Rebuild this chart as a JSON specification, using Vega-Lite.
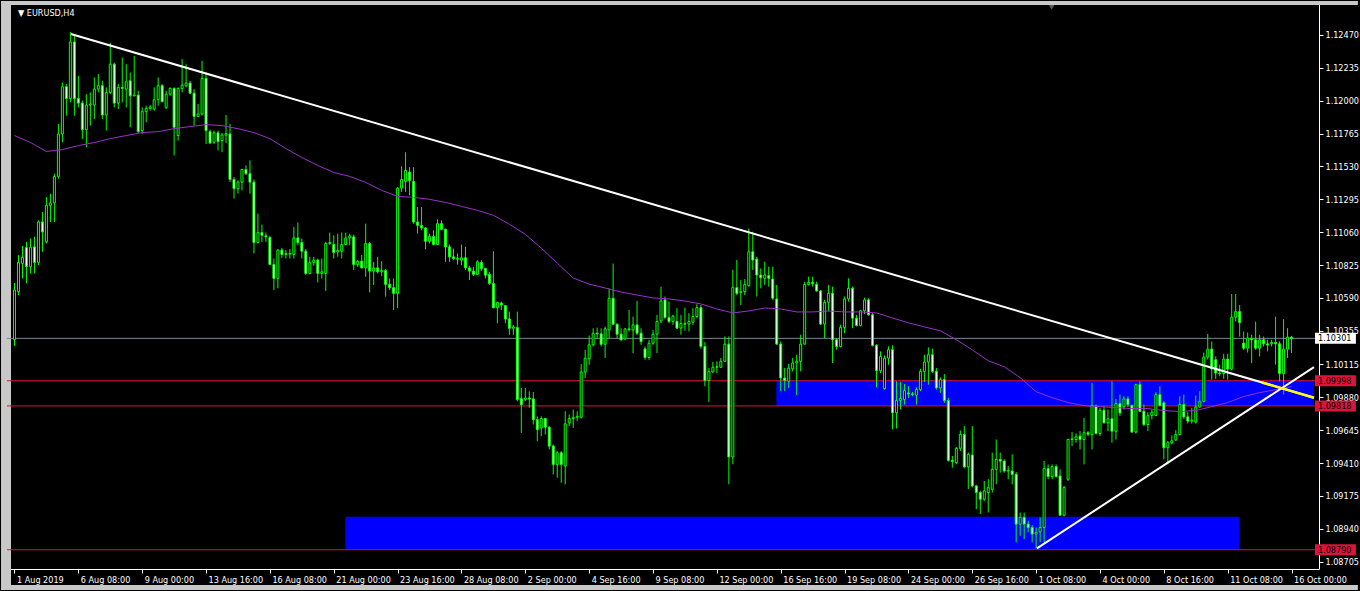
{
"$schema":"https://vega.github.io/schema/vega-lite/v6.json",
"width":1360,"height":591,"autosize":{"type":"fit","contains":"padding"},
"padding":{"left":0,"top":0,"right":0,"bottom":0},
"background":"#000000",
"config":{"view":{"stroke":null},"axis":{"labelColor":"#ffffff","tickColor":"#ffffff","domainColor":"#ffffff","grid":false,"labelFont":"DejaVu Sans Condensed","labelFontSize":9,"zindex":0}},
"resolve":{"axis":{"x":"independent","y":"independent"}},
"datasets":{
"bars":[
{"i":0,"o":1.10291,"h":1.10697,"l":1.10248,"c":1.10647,"ma":1.11751},
{"i":1,"o":1.10635,"h":1.10896,"l":1.10611,"c":1.10844},
{"i":2,"o":1.10837,"h":1.10962,"l":1.10730,"c":1.10879},
{"i":3,"o":1.10951,"h":1.10991,"l":1.10694,"c":1.10813},
{"i":4,"o":1.10813,"h":1.11015,"l":1.10765,"c":1.10951,"ma":1.11701},
{"i":5,"o":1.10955,"h":1.11027,"l":1.10765,"c":1.10844},
{"i":6,"o":1.10844,"h":1.11145,"l":1.10825,"c":1.11133},
{"i":7,"o":1.11133,"h":1.11205,"l":1.10920,"c":1.11062},
{"i":8,"o":1.10991,"h":1.11311,"l":1.10979,"c":1.11252,"ma":1.11637},
{"i":9,"o":1.11252,"h":1.11335,"l":1.11133,"c":1.11269},
{"i":10,"o":1.11269,"h":1.11478,"l":1.11133,"c":1.11459},
{"i":11,"o":1.11459,"h":1.11834,"l":1.11442,"c":1.11762},
{"i":12,"o":1.11762,"h":1.12130,"l":1.11703,"c":1.12100,"ma":1.11651},
{"i":13,"o":1.12100,"h":1.12119,"l":1.11893,"c":1.12016},
{"i":14,"o":1.12016,"h":1.12491,"l":1.11988,"c":1.12420},
{"i":15,"o":1.12420,"h":1.12463,"l":1.11893,"c":1.12016},
{"i":16,"o":1.12016,"h":1.12178,"l":1.11952,"c":1.11983,"ma":1.11679},
{"i":17,"o":1.11983,"h":1.12000,"l":1.11727,"c":1.11793},
{"i":18,"o":1.11793,"h":1.12047,"l":1.11667,"c":1.11969},
{"i":19,"o":1.11969,"h":1.12059,"l":1.11822,"c":1.11976},
{"i":20,"o":1.11969,"h":1.12166,"l":1.11869,"c":1.12083,"ma":1.11701},
{"i":21,"o":1.12083,"h":1.12190,"l":1.12059,"c":1.12107},
{"i":22,"o":1.12107,"h":1.12142,"l":1.11869,"c":1.11898},
{"i":23,"o":1.11898,"h":1.12095,"l":1.11786,"c":1.12059},
{"i":24,"o":1.12059,"h":1.12415,"l":1.12047,"c":1.12261,"ma":1.11729},
{"i":25,"o":1.12261,"h":1.12273,"l":1.11952,"c":1.11983},
{"i":26,"o":1.11983,"h":1.12119,"l":1.11940,"c":1.12095},
{"i":27,"o":1.12095,"h":1.12308,"l":1.11988,"c":1.12088},
{"i":28,"o":1.12083,"h":1.12261,"l":1.11952,"c":1.12135,"ma":1.11751},
{"i":29,"o":1.12142,"h":1.12202,"l":1.11810,"c":1.12035},
{"i":30,"o":1.12035,"h":1.12320,"l":1.12031,"c":1.12040},
{"i":31,"o":1.12040,"h":1.12071,"l":1.11770,"c":1.11779},
{"i":32,"o":1.11786,"h":1.11952,"l":1.11762,"c":1.11922,"ma":1.11772},
{"i":33,"o":1.11922,"h":1.11964,"l":1.11846,"c":1.11945},
{"i":34,"o":1.11945,"h":1.11969,"l":1.11929,"c":1.11955},
{"i":35,"o":1.11940,"h":1.12095,"l":1.11929,"c":1.12007},
{"i":36,"o":1.12007,"h":1.12166,"l":1.11964,"c":1.12107,"ma":1.11779},
{"i":37,"o":1.12107,"h":1.12119,"l":1.11988,"c":1.11993},
{"i":38,"o":1.11952,"h":1.12071,"l":1.11940,"c":1.12047},
{"i":39,"o":1.12047,"h":1.12095,"l":1.12035,"c":1.12088},
{"i":40,"o":1.12088,"h":1.12095,"l":1.11608,"c":1.11810,"ma":1.11800},
{"i":41,"o":1.11751,"h":1.12095,"l":1.11715,"c":1.12088},
{"i":42,"o":1.12088,"h":1.12297,"l":1.12059,"c":1.12111},
{"i":43,"o":1.12107,"h":1.12261,"l":1.12095,"c":1.12126},
{"i":44,"o":1.12126,"h":1.12142,"l":1.12047,"c":1.12054,"ma":1.11815},
{"i":45,"o":1.12054,"h":1.12083,"l":1.11822,"c":1.11888},
{"i":46,"o":1.11888,"h":1.11976,"l":1.11881,"c":1.11905},
{"i":47,"o":1.11905,"h":1.12285,"l":1.11893,"c":1.12159},
{"i":48,"o":1.12159,"h":1.12202,"l":1.11691,"c":1.11786,"ma":1.11829},
{"i":49,"o":1.11779,"h":1.11793,"l":1.11691,"c":1.11698},
{"i":50,"o":1.11703,"h":1.11786,"l":1.11691,"c":1.11770},
{"i":51,"o":1.11770,"h":1.11786,"l":1.11644,"c":1.11708},
{"i":52,"o":1.11715,"h":1.11770,"l":1.11632,"c":1.11755,"ma":1.11822},
{"i":53,"o":1.11755,"h":1.11898,"l":1.11698,"c":1.11765},
{"i":54,"o":1.11762,"h":1.11834,"l":1.11418,"c":1.11437},
{"i":55,"o":1.11437,"h":1.11454,"l":1.11300,"c":1.11371},
{"i":56,"o":1.11371,"h":1.11430,"l":1.11335,"c":1.11418,"ma":1.11800},
{"i":57,"o":1.11418,"h":1.11513,"l":1.11359,"c":1.11508},
{"i":58,"o":1.11508,"h":1.11537,"l":1.11470,"c":1.11478},
{"i":59,"o":1.11478,"h":1.11573,"l":1.11335,"c":1.11418},
{"i":60,"o":1.11418,"h":1.11437,"l":1.10908,"c":1.10986,"ma":1.11772},
{"i":61,"o":1.10986,"h":1.11193,"l":1.10979,"c":1.11057},
{"i":62,"o":1.11057,"h":1.11114,"l":1.10991,"c":1.11038},
{"i":63,"o":1.11034,"h":1.11057,"l":1.10991,"c":1.11027},
{"i":64,"o":1.11022,"h":1.11034,"l":1.10825,"c":1.10829,"ma":1.11729},
{"i":65,"o":1.10829,"h":1.10872,"l":1.10647,"c":1.10730},
{"i":66,"o":1.10730,"h":1.10939,"l":1.10659,"c":1.10932},
{"i":67,"o":1.10932,"h":1.10948,"l":1.10877,"c":1.10901},
{"i":68,"o":1.10901,"h":1.10932,"l":1.10872,"c":1.10908,"ma":1.11658},
{"i":69,"o":1.10903,"h":1.10939,"l":1.10872,"c":1.10908},
{"i":70,"o":1.10901,"h":1.11098,"l":1.10872,"c":1.11019},
{"i":71,"o":1.11019,"h":1.11129,"l":1.10967,"c":1.10986},
{"i":72,"o":1.10986,"h":1.11015,"l":1.10872,"c":1.10924,"ma":1.11594},
{"i":73,"o":1.10924,"h":1.10939,"l":1.10753,"c":1.10765},
{"i":74,"o":1.10765,"h":1.10884,"l":1.10758,"c":1.10844},
{"i":75,"o":1.10844,"h":1.10884,"l":1.10820,"c":1.10860},
{"i":76,"o":1.10860,"h":1.10872,"l":1.10701,"c":1.10765,"ma":1.11537},
{"i":77,"o":1.10765,"h":1.10872,"l":1.10730,"c":1.10777},
{"i":78,"o":1.10765,"h":1.10991,"l":1.10640,"c":1.10979},
{"i":79,"o":1.10979,"h":1.11057,"l":1.10967,"c":1.10986},
{"i":80,"o":1.10972,"h":1.11038,"l":1.10872,"c":1.10915,"ma":1.11487},
{"i":81,"o":1.10919,"h":1.11050,"l":1.10884,"c":1.10929},
{"i":82,"o":1.10924,"h":1.11057,"l":1.10872,"c":1.10972},
{"i":83,"o":1.10972,"h":1.11057,"l":1.10967,"c":1.11019},
{"i":84,"o":1.11019,"h":1.11050,"l":1.10967,"c":1.11033,"ma":1.11459},
{"i":85,"o":1.11026,"h":1.11043,"l":1.10789,"c":1.10829},
{"i":86,"o":1.10829,"h":1.10860,"l":1.10812,"c":1.10853},
{"i":87,"o":1.10853,"h":1.10896,"l":1.10801,"c":1.10805},
{"i":88,"o":1.10805,"h":1.11121,"l":1.10741,"c":1.10979,"ma":1.11416},
{"i":89,"o":1.10979,"h":1.10991,"l":1.10630,"c":1.10782},
{"i":90,"o":1.10782,"h":1.10848,"l":1.10682,"c":1.10805},
{"i":91,"o":1.10805,"h":1.10884,"l":1.10765,"c":1.10777},
{"i":92,"o":1.10777,"h":1.10853,"l":1.10748,"c":1.10786,"ma":1.11359},
{"i":93,"o":1.10786,"h":1.10796,"l":1.10599,"c":1.10687},
{"i":94,"o":1.10687,"h":1.10729,"l":1.10646,"c":1.10663},
{"i":95,"o":1.10663,"h":1.10729,"l":1.10504,"c":1.10623},
{"i":96,"o":1.10623,"h":1.11382,"l":1.10516,"c":1.11375,"ma":1.11316},
{"i":97,"o":1.11375,"h":1.11532,"l":1.11347,"c":1.11437},
{"i":98,"o":1.11423,"h":1.11632,"l":1.11347,"c":1.11501},
{"i":99,"o":1.11489,"h":1.11525,"l":1.11323,"c":1.11430},
{"i":100,"o":1.11423,"h":1.11525,"l":1.11121,"c":1.11133,"ma":1.11309},
{"i":101,"o":1.11133,"h":1.11240,"l":1.11050,"c":1.11109},
{"i":102,"o":1.11109,"h":1.11240,"l":1.11074,"c":1.11090},
{"i":103,"o":1.11090,"h":1.11097,"l":1.10938,"c":1.10995},
{"i":104,"o":1.10995,"h":1.11050,"l":1.10979,"c":1.11029,"ma":1.11295},
{"i":105,"o":1.11029,"h":1.11074,"l":1.10967,"c":1.10972},
{"i":106,"o":1.10972,"h":1.11152,"l":1.10967,"c":1.11121},
{"i":107,"o":1.11121,"h":1.11145,"l":1.11074,"c":1.11081},
{"i":108,"o":1.11081,"h":1.11085,"l":1.10848,"c":1.10955,"ma":1.11273},
{"i":109,"o":1.10955,"h":1.10972,"l":1.10848,"c":1.10884},
{"i":110,"o":1.10884,"h":1.10943,"l":1.10860,"c":1.10872},
{"i":111,"o":1.10872,"h":1.10907,"l":1.10829,"c":1.10867},
{"i":112,"o":1.10860,"h":1.10972,"l":1.10824,"c":1.10877,"ma":1.11245},
{"i":113,"o":1.10877,"h":1.10955,"l":1.10789,"c":1.10805},
{"i":114,"o":1.10805,"h":1.10820,"l":1.10718,"c":1.10782},
{"i":115,"o":1.10782,"h":1.10812,"l":1.10748,"c":1.10758},
{"i":116,"o":1.10758,"h":1.10860,"l":1.10753,"c":1.10848,"ma":1.11216},
{"i":117,"o":1.10843,"h":1.10860,"l":1.10782,"c":1.10801},
{"i":118,"o":1.10801,"h":1.10805,"l":1.10729,"c":1.10753},
{"i":119,"o":1.10758,"h":1.10777,"l":1.10682,"c":1.10694},
{"i":120,"o":1.10694,"h":1.10924,"l":1.10516,"c":1.10520,"ma":1.11181},
{"i":121,"o":1.10520,"h":1.10563,"l":1.10409,"c":1.10558},
{"i":122,"o":1.10554,"h":1.10563,"l":1.10504,"c":1.10539},
{"i":123,"o":1.10535,"h":1.10539,"l":1.10409,"c":1.10440},
{"i":124,"o":1.10440,"h":1.10492,"l":1.10326,"c":1.10373,"ma":1.11117},
{"i":125,"o":1.10373,"h":1.10397,"l":1.10326,"c":1.10383},
{"i":126,"o":1.10378,"h":1.10492,"l":1.09851,"c":1.09863},
{"i":127,"o":1.09870,"h":1.09946,"l":1.09625,"c":1.09827},
{"i":128,"o":1.09863,"h":1.09946,"l":1.09851,"c":1.09875,"ma":1.11045},
{"i":129,"o":1.09875,"h":1.09922,"l":1.09804,"c":1.09868},
{"i":130,"o":1.09868,"h":1.09918,"l":1.09685,"c":1.09720},
{"i":131,"o":1.09720,"h":1.09744,"l":1.09566,"c":1.09649},
{"i":132,"o":1.09661,"h":1.09744,"l":1.09602,"c":1.09728,"ma":1.10946},
{"i":133,"o":1.09728,"h":1.09732,"l":1.09614,"c":1.09666},
{"i":134,"o":1.09666,"h":1.09673,"l":1.09507,"c":1.09531},
{"i":135,"o":1.09531,"h":1.09542,"l":1.09329,"c":1.09400},
{"i":136,"o":1.09400,"h":1.09495,"l":1.09305,"c":1.09483,"ma":1.10839},
{"i":137,"o":1.09483,"h":1.09495,"l":1.09269,"c":1.09400},
{"i":138,"o":1.09388,"h":1.09780,"l":1.09258,"c":1.09690},
{"i":139,"o":1.09697,"h":1.09756,"l":1.09673,"c":1.09728},
{"i":140,"o":1.09728,"h":1.09792,"l":1.09661,"c":1.09737,"ma":1.10732},
{"i":141,"o":1.09737,"h":1.09780,"l":1.09709,"c":1.09744},
{"i":142,"o":1.09737,"h":1.10117,"l":1.09728,"c":1.10060},
{"i":143,"o":1.10060,"h":1.10219,"l":1.10017,"c":1.10160},
{"i":144,"o":1.10155,"h":1.10321,"l":1.10112,"c":1.10255,"ma":1.10689},
{"i":145,"o":1.10255,"h":1.10373,"l":1.10243,"c":1.10338},
{"i":146,"o":1.10338,"h":1.10378,"l":1.10302,"c":1.10333},
{"i":147,"o":1.10333,"h":1.10373,"l":1.10243,"c":1.10259},
{"i":148,"o":1.10259,"h":1.10385,"l":1.10160,"c":1.10369,"ma":1.10661},
{"i":149,"o":1.10361,"h":1.10658,"l":1.10302,"c":1.10587},
{"i":150,"o":1.10587,"h":1.10836,"l":1.10397,"c":1.10402},
{"i":151,"o":1.10402,"h":1.10409,"l":1.10302,"c":1.10331},
{"i":152,"o":1.10331,"h":1.10373,"l":1.10283,"c":1.10290,"ma":1.10632},
{"i":153,"o":1.10297,"h":1.10373,"l":1.10290,"c":1.10369},
{"i":154,"o":1.10369,"h":1.10504,"l":1.10350,"c":1.10364},
{"i":155,"o":1.10361,"h":1.10456,"l":1.10195,"c":1.10397},
{"i":156,"o":1.10397,"h":1.10568,"l":1.10326,"c":1.10338,"ma":1.10611},
{"i":157,"o":1.10338,"h":1.10373,"l":1.10255,"c":1.10278},
{"i":158,"o":1.10226,"h":1.10243,"l":1.10148,"c":1.10164},
{"i":159,"o":1.10164,"h":1.10290,"l":1.10148,"c":1.10266},
{"i":160,"o":1.10266,"h":1.10361,"l":1.10255,"c":1.10331,"ma":1.10590},
{"i":161,"o":1.10331,"h":1.10469,"l":1.10196,"c":1.10422},
{"i":162,"o":1.10426,"h":1.10671,"l":1.10410,"c":1.10569},
{"i":163,"o":1.10576,"h":1.10600,"l":1.10441,"c":1.10450},
{"i":164,"o":1.10450,"h":1.10564,"l":1.10410,"c":1.10422,"ma":1.10583},
{"i":165,"o":1.10422,"h":1.10469,"l":1.10398,"c":1.10460},
{"i":166,"o":1.10422,"h":1.10516,"l":1.10369,"c":1.10374},
{"i":167,"o":1.10374,"h":1.10469,"l":1.10327,"c":1.10407},
{"i":168,"o":1.10407,"h":1.10521,"l":1.10355,"c":1.10403,"ma":1.10568},
{"i":169,"o":1.10403,"h":1.10481,"l":1.10350,"c":1.10422},
{"i":170,"o":1.10417,"h":1.10516,"l":1.10398,"c":1.10457},
{"i":171,"o":1.10457,"h":1.10545,"l":1.10445,"c":1.10521},
{"i":172,"o":1.10521,"h":1.10540,"l":1.10227,"c":1.10243,"ma":1.10547},
{"i":173,"o":1.10243,"h":1.10274,"l":1.09959,"c":1.09999},
{"i":174,"o":1.09999,"h":1.10089,"l":1.09847,"c":1.10065},
{"i":175,"o":1.10061,"h":1.10132,"l":1.10054,"c":1.10094},
{"i":176,"o":1.10094,"h":1.10137,"l":1.10054,"c":1.10099,"ma":1.10511},
{"i":177,"o":1.10094,"h":1.10160,"l":1.10089,"c":1.10137},
{"i":178,"o":1.10137,"h":1.10315,"l":1.10132,"c":1.10260},
{"i":179,"o":1.10260,"h":1.10315,"l":1.09258,"c":1.09453},
{"i":180,"o":1.09453,"h":1.10790,"l":1.09401,"c":1.10664,"ma":1.10483},
{"i":181,"o":1.10664,"h":1.10861,"l":1.10611,"c":1.10623},
{"i":182,"o":1.10628,"h":1.10718,"l":1.10540,"c":1.10635},
{"i":183,"o":1.10635,"h":1.10725,"l":1.10611,"c":1.10687},
{"i":184,"o":1.10678,"h":1.11086,"l":1.10671,"c":1.10920,"ma":1.10497},
{"i":185,"o":1.10920,"h":1.11063,"l":1.10790,"c":1.10861},
{"i":186,"o":1.10868,"h":1.10884,"l":1.10600,"c":1.10754},
{"i":187,"o":1.10754,"h":1.10801,"l":1.10659,"c":1.10735},
{"i":188,"o":1.10730,"h":1.10849,"l":1.10683,"c":1.10754,"ma":1.10518},
{"i":189,"o":1.10749,"h":1.10813,"l":1.10671,"c":1.10730},
{"i":190,"o":1.10725,"h":1.10813,"l":1.10576,"c":1.10588},
{"i":191,"o":1.10583,"h":1.10683,"l":1.10255,"c":1.10260},
{"i":192,"o":1.10260,"h":1.10279,"l":1.09923,"c":1.10018,"ma":1.10511},
{"i":193,"o":1.10018,"h":1.10089,"l":1.09923,"c":1.09999},
{"i":194,"o":1.09994,"h":1.10118,"l":1.09947,"c":1.10089},
{"i":195,"o":1.10084,"h":1.10160,"l":1.10065,"c":1.10125},
{"i":196,"o":1.10125,"h":1.10184,"l":1.09895,"c":1.10137,"ma":1.10490},
{"i":197,"o":1.10137,"h":1.10327,"l":1.10065,"c":1.10260},
{"i":198,"o":1.10260,"h":1.10706,"l":1.10255,"c":1.10687},
{"i":199,"o":1.10687,"h":1.10742,"l":1.10678,"c":1.10702},
{"i":200,"o":1.10702,"h":1.10742,"l":1.10671,"c":1.10692,"ma":1.10490},
{"i":201,"o":1.10687,"h":1.10706,"l":1.10635,"c":1.10640},
{"i":202,"o":1.10640,"h":1.10647,"l":1.10398,"c":1.10403},
{"i":203,"o":1.10403,"h":1.10576,"l":1.10303,"c":1.10559},
{"i":204,"o":1.10559,"h":1.10683,"l":1.10493,"c":1.10623,"ma":1.10497},
{"i":205,"o":1.10623,"h":1.10671,"l":1.10125,"c":1.10291},
{"i":206,"o":1.10291,"h":1.10303,"l":1.10220,"c":1.10243},
{"i":207,"o":1.10243,"h":1.10398,"l":1.10236,"c":1.10379},
{"i":208,"o":1.10379,"h":1.10600,"l":1.10338,"c":1.10583,"ma":1.10490},
{"i":209,"o":1.10583,"h":1.10730,"l":1.10564,"c":1.10659},
{"i":210,"o":1.10659,"h":1.10671,"l":1.10374,"c":1.10445},
{"i":211,"o":1.10445,"h":1.10469,"l":1.10386,"c":1.10393},
{"i":212,"o":1.10393,"h":1.10505,"l":1.10386,"c":1.10498,"ma":1.10490},
{"i":213,"o":1.10498,"h":1.10592,"l":1.10474,"c":1.10576},
{"i":214,"o":1.10576,"h":1.10588,"l":1.10464,"c":1.10469},
{"i":215,"o":1.10469,"h":1.10481,"l":1.10243,"c":1.10251},
{"i":216,"o":1.10251,"h":1.10260,"l":1.09951,"c":1.10070,"ma":1.10483},
{"i":217,"o":1.10070,"h":1.10208,"l":1.10054,"c":1.10172},
{"i":218,"o":1.09942,"h":1.10179,"l":1.09935,"c":1.10160},
{"i":219,"o":1.10160,"h":1.10243,"l":1.10113,"c":1.10220},
{"i":220,"o":1.10220,"h":1.10251,"l":1.09650,"c":1.09769,"ma":1.10447},
{"i":221,"o":1.09769,"h":1.09994,"l":1.09657,"c":1.09857},
{"i":222,"o":1.09857,"h":1.09989,"l":1.09792,"c":1.09871},
{"i":223,"o":1.09864,"h":1.09975,"l":1.09828,"c":1.09928},
{"i":224,"o":1.09911,"h":1.09959,"l":1.09876,"c":1.09904,"ma":1.10412},
{"i":225,"o":1.09904,"h":1.09918,"l":1.09887,"c":1.09899},
{"i":226,"o":1.09895,"h":1.09951,"l":1.09828,"c":1.09935},
{"i":227,"o":1.09935,"h":1.10084,"l":1.09923,"c":1.10065},
{"i":228,"o":1.10065,"h":1.10184,"l":1.09989,"c":1.10132,"ma":1.10383},
{"i":229,"o":1.10132,"h":1.10236,"l":1.09970,"c":1.10184},
{"i":230,"o":1.10184,"h":1.10227,"l":1.10054,"c":1.10065},
{"i":231,"o":1.10065,"h":1.10089,"l":1.09935,"c":1.09947},
{"i":232,"o":1.09947,"h":1.10023,"l":1.09911,"c":1.10006,"ma":1.10355},
{"i":233,"o":1.10006,"h":1.10046,"l":1.09840,"c":1.09857},
{"i":234,"o":1.09857,"h":1.09876,"l":1.09420,"c":1.09429},
{"i":235,"o":1.09429,"h":1.09460,"l":1.09377,"c":1.09420},
{"i":236,"o":1.09413,"h":1.09524,"l":1.09401,"c":1.09515,"ma":1.10291},
{"i":237,"o":1.09515,"h":1.09643,"l":1.09496,"c":1.09614},
{"i":238,"o":1.09614,"h":1.09674,"l":1.09372,"c":1.09382},
{"i":239,"o":1.09382,"h":1.09484,"l":1.09223,"c":1.09472},
{"i":240,"o":1.09467,"h":1.09674,"l":1.09235,"c":1.09246,"ma":1.10219},
{"i":241,"o":1.09246,"h":1.09254,"l":1.09080,"c":1.09199},
{"i":242,"o":1.09199,"h":1.09211,"l":1.09045,"c":1.09151},
{"i":243,"o":1.09151,"h":1.09282,"l":1.09139,"c":1.09211},
{"i":244,"o":1.09199,"h":1.09294,"l":1.09056,"c":1.09234,"ma":1.10141},
{"i":245,"o":1.09222,"h":1.09484,"l":1.09199,"c":1.09365},
{"i":246,"o":1.09365,"h":1.09578,"l":1.09258,"c":1.09436},
{"i":247,"o":1.09436,"h":1.09484,"l":1.09341,"c":1.09424},
{"i":248,"o":1.09424,"h":1.09436,"l":1.09341,"c":1.09353,"ma":1.10098},
{"i":249,"o":1.09353,"h":1.09389,"l":1.09294,"c":1.09358},
{"i":250,"o":1.09353,"h":1.09472,"l":1.09258,"c":1.09329},
{"i":251,"o":1.09329,"h":1.09346,"l":1.08843,"c":1.08973},
{"i":252,"o":1.08973,"h":1.09056,"l":1.08890,"c":1.09021,"ma":1.10020},
{"i":253,"o":1.09021,"h":1.09056,"l":1.08866,"c":1.08973},
{"i":254,"o":1.08973,"h":1.08997,"l":1.08914,"c":1.08949},
{"i":255,"o":1.08949,"h":1.08966,"l":1.08843,"c":1.08902},
{"i":256,"o":1.08902,"h":1.08949,"l":1.08800,"c":1.08914,"ma":1.09920},
{"i":257,"o":1.08918,"h":1.09021,"l":1.08843,"c":1.08949},
{"i":258,"o":1.08949,"h":1.09424,"l":1.08843,"c":1.09370},
{"i":259,"o":1.09370,"h":1.09400,"l":1.09294,"c":1.09313},
{"i":260,"o":1.09313,"h":1.09400,"l":1.09294,"c":1.09384,"ma":1.09877},
{"i":261,"o":1.09384,"h":1.09400,"l":1.09305,"c":1.09313},
{"i":262,"o":1.09317,"h":1.09365,"l":1.09032,"c":1.09037},
{"i":263,"o":1.09037,"h":1.09246,"l":1.09028,"c":1.09234},
{"i":264,"o":1.09294,"h":1.09583,"l":1.09282,"c":1.09578,"ma":1.09842},
{"i":265,"o":1.09578,"h":1.09631,"l":1.09531,"c":1.09583},
{"i":266,"o":1.09578,"h":1.09621,"l":1.09555,"c":1.09597},
{"i":267,"o":1.09602,"h":1.09638,"l":1.09507,"c":1.09578},
{"i":268,"o":1.09578,"h":1.09733,"l":1.09400,"c":1.09626,"ma":1.09820},
{"i":269,"o":1.09626,"h":1.09638,"l":1.09602,"c":1.09616},
{"i":270,"o":1.09612,"h":1.09982,"l":1.09507,"c":1.09821},
{"i":271,"o":1.09816,"h":1.09828,"l":1.09614,"c":1.09621},
{"i":272,"o":1.09621,"h":1.09804,"l":1.09602,"c":1.09787,"ma":1.09813},
{"i":273,"o":1.09787,"h":1.09816,"l":1.09692,"c":1.09697},
{"i":274,"o":1.09697,"h":1.09792,"l":1.09638,"c":1.09726},
{"i":275,"o":1.09726,"h":1.09994,"l":1.09555,"c":1.09638},
{"i":276,"o":1.09638,"h":1.09868,"l":1.09578,"c":1.09835,"ma":1.09806},
{"i":277,"o":1.09835,"h":1.09899,"l":1.09745,"c":1.09768},
{"i":278,"o":1.09811,"h":1.09887,"l":1.09792,"c":1.09868},
{"i":279,"o":1.09868,"h":1.09887,"l":1.09811,"c":1.09828},
{"i":280,"o":1.09821,"h":1.09828,"l":1.09626,"c":1.09631,"ma":1.09799},
{"i":281,"o":1.09631,"h":1.09977,"l":1.09621,"c":1.09970},
{"i":282,"o":1.09970,"h":1.09994,"l":1.09773,"c":1.09780},
{"i":283,"o":1.09780,"h":1.09828,"l":1.09673,"c":1.09685},
{"i":284,"o":1.09685,"h":1.09773,"l":1.09638,"c":1.09749,"ma":1.09799},
{"i":285,"o":1.09749,"h":1.09792,"l":1.09721,"c":1.09773},
{"i":286,"o":1.09749,"h":1.09916,"l":1.09745,"c":1.09899},
{"i":287,"o":1.09899,"h":1.09958,"l":1.09816,"c":1.09821},
{"i":288,"o":1.09840,"h":1.09851,"l":1.09436,"c":1.09519,"ma":1.09785},
{"i":289,"o":1.09519,"h":1.09567,"l":1.09400,"c":1.09555},
{"i":290,"o":1.09555,"h":1.09607,"l":1.09543,"c":1.09569},
{"i":291,"o":1.09574,"h":1.09645,"l":1.09567,"c":1.09614},
{"i":292,"o":1.09614,"h":1.09887,"l":1.09607,"c":1.09828,"ma":1.09778},
{"i":293,"o":1.09828,"h":1.09899,"l":1.09726,"c":1.09740},
{"i":294,"o":1.09740,"h":1.09773,"l":1.09692,"c":1.09709},
{"i":295,"o":1.09709,"h":1.09804,"l":1.09692,"c":1.09716},
{"i":296,"o":1.09702,"h":1.09892,"l":1.09692,"c":1.09811,"ma":1.09785},
{"i":297,"o":1.09811,"h":1.09923,"l":1.09804,"c":1.09851},
{"i":298,"o":1.09851,"h":1.10200,"l":1.09844,"c":1.10167},
{"i":299,"o":1.10167,"h":1.10333,"l":1.10148,"c":1.10224},
{"i":300,"o":1.10224,"h":1.10279,"l":1.10006,"c":1.10082,"ma":1.09813},
{"i":301,"o":1.10148,"h":1.10172,"l":1.10011,"c":1.10053},
{"i":302,"o":1.10053,"h":1.10113,"l":1.10030,"c":1.10049},
{"i":303,"o":1.10049,"h":1.10191,"l":1.10011,"c":1.10153},
{"i":304,"o":1.10153,"h":1.10191,"l":1.10006,"c":1.10082,"ma":1.09842},
{"i":305,"o":1.10082,"h":1.10618,"l":1.10072,"c":1.10452},
{"i":306,"o":1.10452,"h":1.10618,"l":1.10421,"c":1.10492},
{"i":307,"o":1.10492,"h":1.10540,"l":1.10314,"c":1.10414},
{"i":308,"o":1.10267,"h":1.10350,"l":1.10219,"c":1.10231,"ma":1.09885},
{"i":309,"o":1.10231,"h":1.10343,"l":1.10200,"c":1.10303},
{"i":310,"o":1.10300,"h":1.10326,"l":1.10124,"c":1.10291},
{"i":311,"o":1.10291,"h":1.10421,"l":1.10219,"c":1.10231},
{"i":312,"o":1.10231,"h":1.10326,"l":1.10172,"c":1.10291,"ma":1.09913},
{"i":313,"o":1.10291,"h":1.10314,"l":1.10243,"c":1.10262},
{"i":314,"o":1.10262,"h":1.10291,"l":1.10208,"c":1.10253},
{"i":315,"o":1.10262,"h":1.10291,"l":1.10243,"c":1.10272},
{"i":316,"o":1.10272,"h":1.10457,"l":1.10113,"c":1.10262,"ma":1.09934},
{"i":317,"o":1.10262,"h":1.10279,"l":1.09994,"c":1.10049},
{"i":318,"o":1.10049,"h":1.10438,"l":1.09899,"c":1.10224},
{"i":319,"o":1.10224,"h":1.10374,"l":1.10160,"c":1.10310},
{"i":320,"o":1.10310,"h":1.10319,"l":1.10196,"c":1.10301,"ma":1.09956}
],
"zones":[{"a":190.9,"b":325.625,"top":1.09998,"bot":1.09818},{"a":82.9,"b":306.9,"top":1.09025,"bot":1.08795}],
"levels":[{"p":1.10301,"k":"bid"},{"p":1.09998,"k":"lvl"},{"p":1.09818,"k":"lvl"},{"p":1.08790,"k":"lvl"}],
"trend":[{"g":"down","i":14.125,"p":1.12477},{"g":"down","i":325.625,"p":1.09877},{"g":"up","i":256.2,"p":1.08800},{"g":"up","i":325.625,"p":1.10096}],
"yellow":[{"i":312.6,"p":1.09986},{"i":325.625,"p":1.09877}],
"caption":[{"t":"▼  EURUSD,H4"}],
"marker":[{"i":259.9,"p":1.12668}],
"frame":[{"a":-3.375,"b":-0.875,"top":1.12713,"bot":1.08503},{"a":-3.375,"b":336.625,"top":1.12713,"bot":1.12684},{"a":-3.375,"b":336.625,"top":1.08538,"bot":1.08503}]
},
"layer":[
{"data":{"name":"bars"},"mark":{"type":"rule","color":"#00ff00","strokeWidth":1,"opacity":0},
 "encoding":{
  "x":{"field":"i","type":"quantitative","scale":{"domain":[-0.625,325.625],"nice":false,"zero":false},
   "axis":{"title":null,"orient":"bottom","values":[0,16,32,48,64,80,96,112,128,144,160,176,192,208,224,240,256,272,288,304,320],
    "labelExpr":"datum.value == 0 ? '1 Aug 2019' : datum.value == 16 ? '6 Aug 08:00' : datum.value == 32 ? '9 Aug 00:00' : datum.value == 48 ? '13 Aug 16:00' : datum.value == 64 ? '16 Aug 08:00' : datum.value == 80 ? '21 Aug 00:00' : datum.value == 96 ? '23 Aug 16:00' : datum.value == 112 ? '28 Aug 08:00' : datum.value == 128 ? '2 Sep 00:00' : datum.value == 144 ? '4 Sep 16:00' : datum.value == 160 ? '9 Sep 08:00' : datum.value == 176 ? '12 Sep 00:00' : datum.value == 192 ? '16 Sep 16:00' : datum.value == 208 ? '19 Sep 08:00' : datum.value == 224 ? '24 Sep 00:00' : datum.value == 240 ? '26 Sep 16:00' : datum.value == 256 ? '1 Oct 08:00' : datum.value == 272 ? '4 Oct 00:00' : datum.value == 288 ? '8 Oct 16:00' : datum.value == 304 ? '11 Oct 08:00' : '16 Oct 00:00'",
    "labelAlign":"left","labelBaseline":"top","labelPadding":2,"labelOffset":2,"labelColor":"#ffffff","labelOverlap":false,"labelFlush":false,
    "tickColor":"#ffffff","tickSize":4,"domainColor":"#ffffff","grid":false,"zindex":0}},
  "y":{"field":"h","type":"quantitative","scale":{"domain":[1.08688,1.12677],"nice":false,"zero":false},
   "axis":{"title":null,"orient":"right","values":[1.1247,1.12235,1.12,1.11765,1.1153,1.11295,1.1106,1.10825,1.1059,1.10355,1.10115,1.0988,1.09645,1.0941,1.09175,1.0894,1.08705],
    "format":".5f","labelColor":"#ffffff","labelPadding":2,"labelOverlap":false,"labelFlush":false,
    "tickColor":"#ffffff","tickSize":4,"domainColor":"#ffffff","grid":false,"zindex":0}},
  "y2":{"field":"l"}}},
{"data":{"name":"frame"},"mark":{"type":"rect","color":"#c8c8c8"},
 "encoding":{
  "x":{"field":"a","type":"quantitative","scale":{"domain":[-0.625,325.625],"nice":false,"zero":false},"axis":null},
  "x2":{"field":"b"},
  "y":{"field":"top","type":"quantitative","scale":{"domain":[1.08688,1.12677],"nice":false,"zero":false},"axis":null},
  "y2":{"field":"bot"}}},
{"data":{"name":"zones"},"mark":{"type":"rect","color":"#0000ff"},
 "encoding":{
  "x":{"field":"a","type":"quantitative","scale":{"domain":[-0.625,325.625],"nice":false,"zero":false},"axis":null},
  "x2":{"field":"b"},
  "y":{"field":"top","type":"quantitative","scale":{"domain":[1.08688,1.12677],"nice":false,"zero":false},"axis":null},
  "y2":{"field":"bot"}}},
{"data":{"name":"levels"},"mark":{"type":"rule","strokeWidth":1},
 "encoding":{"y":{"field":"p","type":"quantitative","scale":{"domain":[1.08688,1.12677],"nice":false,"zero":false},"axis":null},
  "color":{"field":"k","type":"nominal","scale":{"domain":["bid","lvl"],"range":["#778899","#e0103c"]},"legend":null}}},
{"data":{"name":"bars"},"mark":{"type":"rule","color":"#00ff00","strokeWidth":1},
 "encoding":{"x":{"field":"i","type":"quantitative","scale":{"domain":[-0.625,325.625],"nice":false,"zero":false},"axis":null},
  "y":{"field":"h","type":"quantitative","scale":{"domain":[1.08688,1.12677],"nice":false,"zero":false},"axis":null},
  "y2":{"field":"l"}}},
{"data":{"name":"bars"},"mark":{"type":"bar","width":2,"stroke":"#00ff00","strokeWidth":1},
 "encoding":{"x":{"field":"i","type":"quantitative","scale":{"domain":[-0.625,325.625],"nice":false,"zero":false},"axis":null},
  "y":{"field":"o","type":"quantitative","scale":{"domain":[1.08688,1.12677],"nice":false,"zero":false},"axis":null},
  "y2":{"field":"c"},
  "fill":{"condition":{"test":"datum.c > datum.o","value":"#000000"},"value":"#ffffff"}}},
{"data":{"name":"bars"},"transform":[{"filter":"isValid(datum.ma)"}],"mark":{"type":"line","color":"#9932cc","strokeWidth":1},
 "encoding":{"x":{"field":"i","type":"quantitative","scale":{"domain":[-0.625,325.625],"nice":false,"zero":false},"axis":null},
  "y":{"field":"ma","type":"quantitative","scale":{"domain":[1.08688,1.12677],"nice":false,"zero":false},"axis":null}}},
{"data":{"name":"trend"},"mark":{"type":"line","color":"#ffffff","strokeWidth":2},
 "encoding":{"x":{"field":"i","type":"quantitative","scale":{"domain":[-0.625,325.625],"nice":false,"zero":false},"axis":null},
  "y":{"field":"p","type":"quantitative","scale":{"domain":[1.08688,1.12677],"nice":false,"zero":false},"axis":null},
  "detail":{"field":"g"}}},
{"data":{"name":"yellow"},"mark":{"type":"line","color":"#ffff00","strokeWidth":2.5},
 "encoding":{"x":{"field":"i","type":"quantitative","scale":{"domain":[-0.625,325.625],"nice":false,"zero":false},"axis":null},
  "y":{"field":"p","type":"quantitative","scale":{"domain":[1.08688,1.12677],"nice":false,"zero":false},"axis":null}}},
{"data":{"name":"marker"},"mark":{"type":"point","shape":"triangle-down","filled":true,"color":"#808080","size":30},
 "encoding":{"x":{"field":"i","type":"quantitative","scale":{"domain":[-0.625,325.625],"nice":false,"zero":false},"axis":null},
  "y":{"field":"p","type":"quantitative","scale":{"domain":[1.08688,1.12677],"nice":false,"zero":false},"axis":null}}},
{"data":{"name":"levels"},"mark":{"type":"bar","height":11,"orient":"horizontal"},
 "encoding":{"x":{"datum":325.875,"type":"quantitative","scale":{"domain":[-0.625,325.625],"nice":false,"zero":false},"axis":null},
  "x2":{"datum":336.125},
  "y":{"field":"p","type":"quantitative","scale":{"domain":[1.08688,1.12677],"nice":false,"zero":false},"axis":null},
  "fill":{"field":"k","type":"nominal","scale":{"domain":["bid","lvl"],"range":["#ffffff","#dc143c"]},"legend":null}}},
{"data":{"name":"levels"},"mark":{"type":"text","align":"left","baseline":"middle","color":"#000000","font":"DejaVu Sans Condensed","fontSize":9},
 "encoding":{"x":{"datum":326.625,"type":"quantitative","scale":{"domain":[-0.625,325.625],"nice":false,"zero":false},"axis":null},
  "y":{"field":"p","type":"quantitative","scale":{"domain":[1.08688,1.12677],"nice":false,"zero":false},"axis":null},
  "text":{"field":"p","type":"quantitative","format":".5f"}}},
{"data":{"name":"caption"},"mark":{"type":"text","align":"left","baseline":"alphabetic","color":"#ffffff","font":"DejaVu Sans Condensed","fontSize":9},
 "encoding":{"x":{"datum":0.875,"type":"quantitative","scale":{"domain":[-0.625,325.625],"nice":false,"zero":false},"axis":null},
  "y":{"datum":1.12605,"type":"quantitative","scale":{"domain":[1.08688,1.12677],"nice":false,"zero":false},"axis":null},
  "text":{"field":"t"}}}
]
}
